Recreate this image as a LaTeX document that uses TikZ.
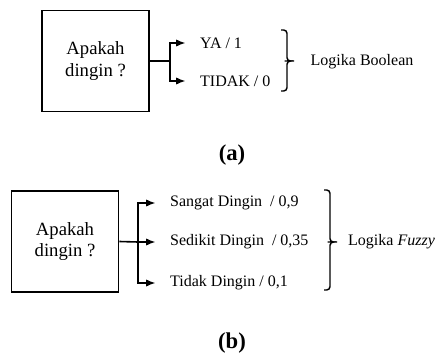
\documentclass[tikz,border=0pt]{standalone}
\usepackage{fontspec}
\setmainfont{Liberation Serif}
\usetikzlibrary{arrows.meta}
\def\boxwid{107}
\def\boxhgt{101}
\def\bracdep{6}

\begin{document}
\begin{tikzpicture}[
            x=0.75pt, y=-0.75pt,
            question/.style={%
                line width=1.3pt, rectangle, draw=black, fill=white,%
                minimum width=\boxwid*0.75pt, minimum height=\boxhgt*0.75pt,%
                align=center, font=\fontsize{14}{16}\selectfont%
            },
            answer/.style={%
                anchor=west, font=\fontsize{12}{14}\selectfont%
            },
            caption/.style={%
                font=\fontsize{17}{20}\selectfont\bfseries%
            },
            arrow/.style={line width=1.2pt,-{Latex[length=7pt,width=5.5pt]},shorten >=7.5pt},
            branch/.style={line width=1.2pt},
            bracket/.style={line width=1.1pt, rounded corners=2.5pt}
        ]
        \useasboundingbox (0,0) rectangle (438,356);

        % Define nodes (a)
        \node (askA) [question] at (95.5,61) {Apakah\\dingin ?};
        \coordinate (forkA) at (170,61);
        \node (yes) [answer] at (195.5,43) {YA / 1};
        \node (no) [answer] at (195.5,81) {TIDAK / 0};
        \coordinate (braceAtop) at (281,30);
        \coordinate (braceAtip) at (294,61);
        \coordinate (braceAbot) at (281,91);
        \node (boolean) [answer] at (306,62) {Logika Boolean};
        \node (capA) [caption] at (232,155) {(a)};

        % Define nodes (b)
        \node (askB) [question] at (65,241.5) {Apakah\\dingin ?};
        \coordinate (forkB) at (138,242);
        \node (veryCold) [answer] at (165.5,203) {Sangat Dingin~ / 0,9};
        \node (bitCold) [answer] at (165.5,242) {Sedikit Dingin~ / 0,35};
        \node (notCold) [answer] at (165.5,283) {Tidak Dingin / 0,1};
        \coordinate (braceBtop) at (324,190);
        \coordinate (braceBtip) at (337,242);
        \coordinate (braceBbot) at (324,290);
        \node (fuzzy) [answer] at (343.5,242) {Logika \textit{Fuzzy}};
        \node (capB) [caption] at (232,343) {(b)};

        \draw [branch] (askA.east) -- (forkA);
        \draw [arrow] (forkA) |- (yes.west);
        \draw [arrow] (forkA) |- (no.west);
        \draw [bracket] (braceAtop) -- ++(\bracdep,0) |- ([xshift=-\bracdep*0.75pt]braceAtip) -- (braceAtip);
        \draw [bracket] (braceAbot) -- ++(\bracdep,0) |- ([xshift=-\bracdep*0.75pt]braceAtip);

        \draw [branch] (askB.east) -- (forkB);
        \draw [arrow] (forkB) |- (veryCold.west);
        \draw [arrow] (forkB) -- (bitCold.west);
        \draw [arrow] (forkB) |- (notCold.west);
        \draw [bracket] (braceBtop) -- ++(\bracdep,0) |- ([xshift=-\bracdep*0.75pt]braceBtip) -- (braceBtip);
        \draw [bracket] (braceBbot) -- ++(\bracdep,0) |- ([xshift=-\bracdep*0.75pt]braceBtip);

        \end{tikzpicture}
\end{document}
